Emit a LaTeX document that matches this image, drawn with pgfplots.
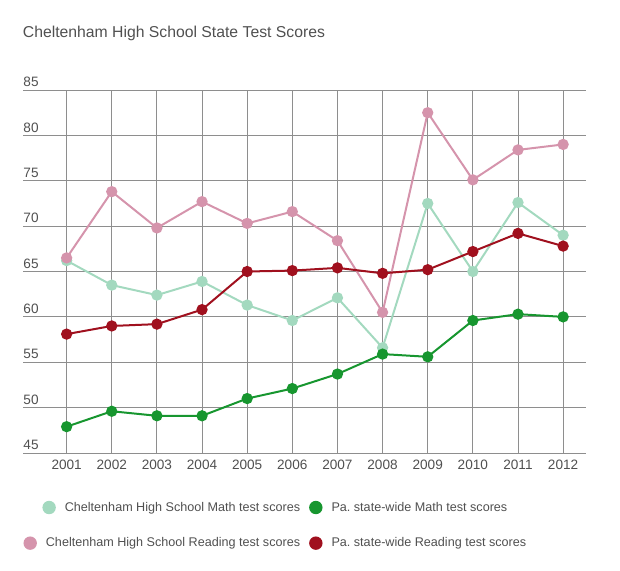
\documentclass[border=0pt]{standalone}
\usepackage{pgfplots}
\pgfplotsset{compat=1.18}
\usepackage{fontspec}
\setmainfont{Liberation Sans}
\definecolor{mathc}{HTML}{A3D9BF}
\definecolor{smathc}{HTML}{17962F}
\definecolor{readc}{HTML}{D594AC}
\definecolor{sreadc}{HTML}{A0101E}
\definecolor{gridc}{HTML}{8E8E8E}
\definecolor{txt}{HTML}{505050}
\newcommand\legfont{\fontsize{12.6}{15}\selectfont}
\newlength\wread
\newlength\wmath
\newlength\dd
\begin{document}%
% first column of the legend is right-aligned: shift the shorter entry
\settowidth\wread{\legfont Cheltenham High School Reading test scores}%
\settowidth\wmath{\legfont Cheltenham High School Math test scores}%
\setlength\dd{\dimexpr\wread-\wmath\relax}%
\begin{tikzpicture}
\useasboundingbox (0pt,0pt) rectangle (620pt,570pt);
\node[anchor=base west, inner sep=0pt, text=txt, font=\fontsize{15.75}{18}\selectfont]
  at (22.7pt,532.5pt) {Cheltenham High School State Test Scores};
\begin{axis}[
  at={(23.3pt,117pt)}, anchor=south west,
  scale only axis, width=562.4pt, height=363pt,
  xmin=2000.04, xmax=2012.5, ymin=45, ymax=85,
  xtick={2001,...,2012}, ytick={45,50,...,85},
  grid=major, grid style={gridc, line width=0.8pt},
  axis line style={draw=none}, tick style={draw=none},
  /pgf/number format/assume math mode=true,
  x tick label style={/pgf/number format/1000 sep={}, yshift=-3pt},
  ticklabel style={text=txt, font=\fontsize{13.6}{16}\selectfont},
  yticklabel style={anchor=south west, inner sep=0pt, xshift=0pt, yshift=3pt},
  every axis plot/.append style={line width=2pt, mark=*, mark size=4.6pt,
    mark options={draw=white, line width=1pt}},
  legend columns=2,
  legend style={at={(0,0)}, anchor=north west, yshift=-47pt, draw=none, fill=none,
    inner sep=0pt, row sep=21pt, column sep=7pt, text=txt, font=\legfont},
  legend cell align=left,
]
\addplot[mathc, mark options={fill=mathc},
  legend image code/.code={\path[draw=none, fill=none] (0pt,-6.7pt) rectangle (13.4pt,6.7pt);
    \fill[mathc, draw=none, overlay] (\dd+6.7pt,0pt) circle (6.7pt);}]
  coordinates {(2001,66.2) (2002,63.5) (2003,62.4) (2004,63.9) (2005,61.3) (2006,59.6)
  (2007,62.1) (2008,56.6) (2009,72.5) (2010,65.0) (2011,72.6) (2012,69.0)};
\addlegendentry{\hspace*{\dd}Cheltenham High School Math test scores}
\addplot[smathc, mark options={fill=smathc},
  legend image code/.code={\fill[smathc, draw=none] (6.7pt,0pt) circle (6.7pt);}]
  coordinates {(2001,47.9) (2002,49.6) (2003,49.1) (2004,49.1) (2005,51.0) (2006,52.1)
  (2007,53.7) (2008,55.9) (2009,55.6) (2010,59.6) (2011,60.3) (2012,60.0)};
\addlegendentry{Pa.\ state-wide Math test scores}
\addplot[readc, mark options={fill=readc},
  legend image code/.code={\fill[readc, draw=none] (6.7pt,0pt) circle (6.7pt);}]
  coordinates {(2001,66.5) (2002,73.8) (2003,69.8) (2004,72.7) (2005,70.3) (2006,71.6)
  (2007,68.4) (2008,60.5) (2009,82.5) (2010,75.1) (2011,78.4) (2012,79.0)};
\addlegendentry{Cheltenham High School Reading test scores}
\addplot[sreadc, mark options={fill=sreadc},
  legend image code/.code={\fill[sreadc, draw=none] (6.7pt,0pt) circle (6.7pt);}]
  coordinates {(2001,58.1) (2002,59.0) (2003,59.2) (2004,60.8) (2005,65.0) (2006,65.1)
  (2007,65.4) (2008,64.8) (2009,65.2) (2010,67.2) (2011,69.2) (2012,67.8)};
\addlegendentry{Pa.\ state-wide Reading test scores}
\end{axis}
\end{tikzpicture}%
\end{document}
